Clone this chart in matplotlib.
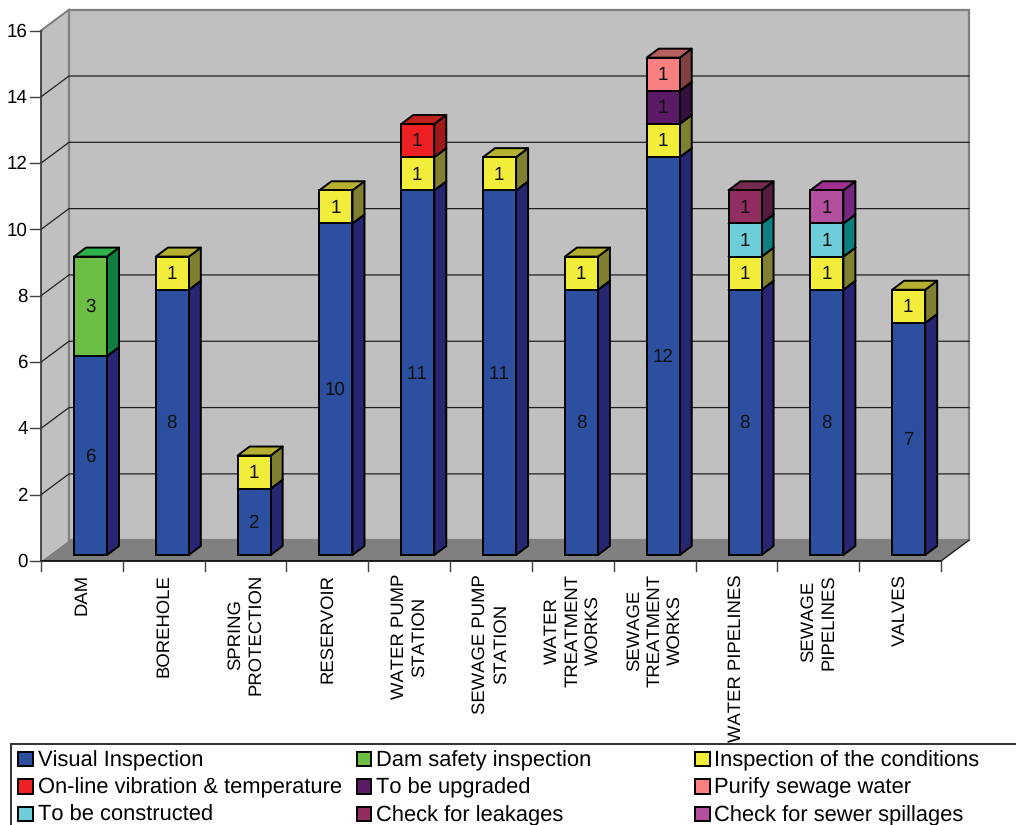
import matplotlib
matplotlib.use('Agg')
import matplotlib.pyplot as plt
from matplotlib.patches import Polygon, Rectangle

plt.rcParams['font.family'] = ['Liberation Sans', 'DejaVu Sans']
plt.rcParams['text.hinting'] = 'no_hinting'
plt.rcParams['text.kerning_factor'] = 6

categories = ['DAM', 'BOREHOLE', 'SPRING\nPROTECTION', 'RESERVOIR', 'WATER PUMP\nSTATION',
              'SEWAGE PUMP\nSTATION', 'WATER\nTREATMENT\nWORKS', 'SEWAGE\nTREATMENT\nWORKS',
              'WATER PIPELINES', 'SEWAGE\nPIPELINES', 'VALVES']

visual_inspection = [6, 8, 2, 10, 11, 11, 8, 12, 8, 8, 7]
dam_safety = [3, 0, 0, 0, 0, 0, 0, 0, 0, 0, 0]
conditions = [0, 1, 1, 1, 1, 1, 1, 1, 1, 1, 1]
online_vibration = [0, 0, 0, 0, 1, 0, 0, 0, 0, 0, 0]
to_upgrade = [0, 0, 0, 0, 0, 0, 0, 1, 0, 0, 0]
purify_sewage = [0, 0, 0, 0, 0, 0, 0, 1, 0, 0, 0]
to_construct = [0, 0, 0, 0, 0, 0, 0, 0, 1, 1, 0]
check_leakages = [0, 0, 0, 0, 0, 0, 0, 0, 1, 0, 0]
check_spillages = [0, 0, 0, 0, 0, 0, 0, 0, 0, 1, 0]

series = [visual_inspection, dam_safety, conditions, online_vibration, to_upgrade,
          purify_sewage, to_construct, check_leakages, check_spillages]
series_names = ['Visual Inspection', 'Dam safety inspection', 'Inspection of the conditions',
                'On-line vibration & temperature', 'To be upgraded', 'Purify sewage water',
                'To be constructed', 'Check for leakages', 'Check for sewer spillages']
# front, side and top shade of each series
front_colors = ['#2d4fa0', '#6cbe45', '#f2ec3a', '#ed2024', '#5a1a66',
                '#f88080', '#6dcdd9', '#922d5f', '#b24f9f']
side_colors = ['#262673', '#0f7f3f', '#808030', '#a01818', '#33103f',
               '#804040', '#0c8080', '#551a3f', '#752880']
top_colors = ['#2d3f90', '#2db34a', '#b5b030', '#c01f1f', '#45154f',
              '#b86060', '#3ea5ad', '#752a50', '#a03090']

W, H = 1016, 825
fig = plt.figure(figsize=(W / 100, H / 100), dpi=100, facecolor='white')

# axes covers the front plane of the 3D box, in category / value units
left, right, top, bottom = 41, 941, 30.5, 561
ax = fig.add_axes([left / W, 1 - bottom / H, (right - left) / W, (bottom - top) / H])
ymax = 16
ax.set_xlim(0, len(categories))
ax.set_ylim(0, ymax)
ax.axis('off')

px_x = len(categories) / (right - left)
px_y = ymax / (bottom - top)
box_dx, box_dy = 28 * px_x, 20.8 * px_y
bar_dx, bar_dy = 12 * px_x, 9 * px_y
shift_x, shift_y = 8.6 * px_x, 6 * px_y
bar_width = 33 * px_x
n = len(categories)

# floor and walls
ax.add_patch(Polygon([(0, 0), (box_dx, box_dy), (n + box_dx, box_dy), (n, 0)],
                     fc='#808080', ec='none', clip_on=False, zorder=1))
ax.add_patch(Polygon([(0, 0), (box_dx, box_dy), (box_dx, ymax + box_dy), (0, ymax)],
                     fc='#c0c0c0', ec='none', clip_on=False, zorder=1))
ax.add_patch(Rectangle((box_dx, box_dy), n, ymax, fc='#c0c0c0', ec='#808080', lw=1.6,
                       clip_on=False, zorder=1))

# gridlines along the back wall and across the side wall
for v in range(2, ymax, 2):
    ax.plot([0, box_dx, n + box_dx], [v, v + box_dy, v + box_dy], color='#202020', lw=0.9,
            clip_on=False, zorder=2)
ax.plot([0, box_dx], [ymax, ymax + box_dy], color='#808080', lw=1.5, clip_on=False, zorder=2)
ax.plot([n, n + box_dx], [0, box_dy], color='#202020', lw=1.0, clip_on=False, zorder=2)

# axis lines and ticks
ax.plot([0, 0], [0, ymax], color='#303030', lw=1.2, clip_on=False, zorder=3)
ax.plot([0, n], [0, 0], color='black', lw=1.2, clip_on=False, zorder=3)
for v in range(0, ymax + 1, 2):
    ax.plot([-11 * px_x, 0], [v, v], color='#404040', lw=1.0, clip_on=False, zorder=3)
    ax.text(-13.5 * px_x, v - 1 * px_y, str(v), ha='right', va='center', fontsize=13.5, color='black')
for i in range(n + 1):
    ax.plot([i, i], [0, -10 * px_y], color='#404040', lw=1.0, clip_on=False, zorder=3)
for i, name in enumerate(categories):
    ax.text(i + 0.5, -13 * px_y, name, rotation=90, ha='center', va='top', ma='center',
            fontsize=13.3, linespacing=1.3, color='black')

# stacked bars, back to front
z = 5
for i in range(n):
    base = 0
    x0 = i + 0.5 + shift_x - bar_width / 2
    x1 = x0 + bar_width
    for values, fc, sc, tc in zip(series, front_colors, side_colors, top_colors):
        v = values[i]
        if v == 0:
            continue
        y0 = base + shift_y
        y1 = y0 + v
        ax.add_patch(Polygon([(x1, y0), (x1 + bar_dx, y0 + bar_dy), (x1 + bar_dx, y1 + bar_dy), (x1, y1)],
                             fc=sc, ec='black', lw=1.4, joinstyle='round', clip_on=False, zorder=z))
        ax.add_patch(Polygon([(x0, y1), (x0 + bar_dx, y1 + bar_dy), (x1 + bar_dx, y1 + bar_dy), (x1, y1)],
                             fc=tc, ec='black', lw=1.4, joinstyle='round', clip_on=False, zorder=z))
        ax.add_patch(Rectangle((x0, y0), bar_width, v, fc=fc, ec='black', lw=1.4,
                               clip_on=False, zorder=z + 1))
        ax.text((x0 + x1) / 2 - 0.5 * px_x, (y0 + y1) / 2 - 1 * px_y, str(v), ha='center', va='center',
                fontsize=13.5, color='#111111', clip_on=False, zorder=z + 2)
        base += v
        z += 3

# legend box runs past the lower and right edges
legend_ax = fig.add_axes([0, 0, 1, 1], facecolor='none')
legend_ax.set_xlim(0, W)
legend_ax.set_ylim(H, 0)
legend_ax.axis('off')
legend_ax.add_patch(Rectangle((10.7, 744), W + 20, 120, fc='white', ec='#303030', lw=1.4))
col_x = [18, 356.5, 695]
row_y = [766, 793.6, 821]
for k, (name, fc) in enumerate(zip(series_names, front_colors)):
    x = col_x[k % 3]
    y = row_y[k // 3]
    legend_ax.add_patch(Rectangle((x, y - 14.5), 14.5, 14.5, fc=fc, ec='black', lw=1.4))
    legend_ax.text(x + 19.5, y, name, ha='left', va='baseline', fontsize=15.75, color='black')

fig.savefig('out.png', dpi=100)
